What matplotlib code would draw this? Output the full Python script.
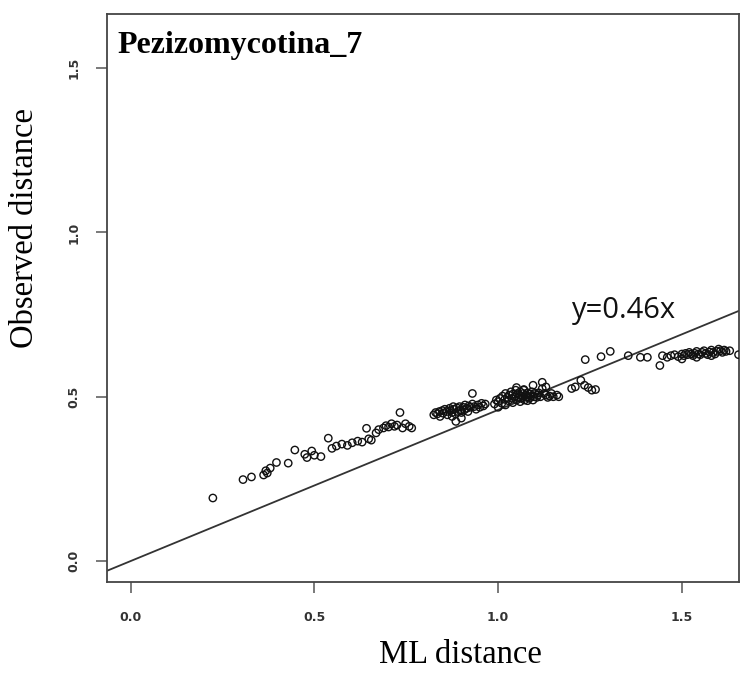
#!/usr/bin/env python3
"""
Saturation plot: observed (p) distance against ML distance for Pezizomycotina_7.
"""

import matplotlib.pyplot as plt

# points, grouped by the clusters along the x axis
ml_low = [0.224, 0.306, 0.329, 0.362, 0.368, 0.372, 0.380, 0.397, 0.429, 0.447,
          0.474, 0.480, 0.493, 0.500, 0.518, 0.538, 0.548, 0.560, 0.575, 0.590,
          0.603, 0.618, 0.630, 0.642, 0.648, 0.655, 0.668, 0.675, 0.688, 0.695,
          0.702, 0.710, 0.718, 0.725, 0.733, 0.740, 0.748, 0.758, 0.765]
obs_low = [0.192, 0.248, 0.256, 0.262, 0.275, 0.268, 0.283, 0.300, 0.298, 0.338,
           0.325, 0.315, 0.335, 0.322, 0.318, 0.374, 0.343, 0.350, 0.356, 0.352,
           0.360, 0.365, 0.362, 0.404, 0.372, 0.368, 0.390, 0.400, 0.405, 0.412,
           0.408, 0.418, 0.410, 0.414, 0.452, 0.405, 0.418, 0.410, 0.405]

ml_mid = [0.825, 0.830, 0.835, 0.840, 0.842, 0.848, 0.850, 0.855, 0.860, 0.862,
          0.868, 0.870, 0.875, 0.878, 0.880, 0.884, 0.888, 0.890, 0.895, 0.898,
          0.900, 0.905, 0.908, 0.910, 0.915, 0.918, 0.920, 0.925, 0.930, 0.935,
          0.940, 0.945, 0.950, 0.955, 0.960, 0.965, 0.885, 0.900, 0.875, 0.930]
obs_mid = [0.445, 0.452, 0.448, 0.455, 0.440, 0.458, 0.450, 0.462, 0.455, 0.445,
           0.465, 0.458, 0.452, 0.470, 0.462, 0.448, 0.466, 0.455, 0.470, 0.460,
           0.452, 0.468, 0.460, 0.475, 0.465, 0.455, 0.472, 0.468, 0.478, 0.470,
           0.462, 0.475, 0.468, 0.480, 0.472, 0.478, 0.425, 0.435, 0.440, 0.510]

ml_one = [0.990, 0.995, 1.000, 1.005, 1.010, 1.012, 1.018, 1.020, 1.025, 1.028,
          1.030, 1.035, 1.038, 1.040, 1.045, 1.048, 1.050, 1.052, 1.055, 1.058,
          1.060, 1.062, 1.065, 1.068, 1.070, 1.072, 1.075, 1.078, 1.080, 1.082,
          1.085, 1.088, 1.090, 1.092, 1.095, 1.098, 1.100, 1.105, 1.108, 1.110,
          1.115, 1.120, 1.125, 1.130, 1.135, 1.140, 1.145, 1.150, 1.160, 1.165,
          1.000, 1.020, 1.040, 1.060, 1.080, 1.095, 1.120, 1.050, 1.070, 1.130]
obs_one = [0.478, 0.490, 0.485, 0.495, 0.480, 0.502, 0.492, 0.510, 0.498, 0.488,
           0.505, 0.515, 0.495, 0.508, 0.500, 0.520, 0.490, 0.510, 0.498, 0.505,
           0.515, 0.495, 0.502, 0.510, 0.520, 0.490, 0.505, 0.498, 0.512, 0.500,
           0.495, 0.508, 0.502, 0.515, 0.535, 0.500, 0.510, 0.498, 0.505, 0.512,
           0.500, 0.544, 0.510, 0.505, 0.498, 0.502, 0.510, 0.500, 0.505, 0.500,
           0.468, 0.475, 0.482, 0.485, 0.488, 0.490, 0.525, 0.528, 0.522, 0.530]

ml_high = [1.200, 1.210, 1.225, 1.235, 1.245, 1.255, 1.265, 1.237, 1.280, 1.305,
           1.354, 1.387, 1.406, 1.440, 1.447]
obs_high = [0.525, 0.530, 0.550, 0.535, 0.528, 0.520, 0.522, 0.613, 0.622, 0.638,
            0.625, 0.620, 0.620, 0.595, 0.625]

ml_top = [1.460, 1.470, 1.480, 1.490, 1.500, 1.505, 1.510, 1.515, 1.520, 1.525,
          1.530, 1.535, 1.540, 1.545, 1.550, 1.555, 1.560, 1.565, 1.570, 1.575,
          1.580, 1.585, 1.590, 1.595, 1.600, 1.605, 1.610, 1.615, 1.620, 1.630,
          1.654, 1.500, 1.540, 1.580]
obs_top = [0.620, 0.625, 0.628, 0.622, 0.630, 0.625, 0.632, 0.628, 0.635, 0.630,
           0.625, 0.632, 0.638, 0.630, 0.628, 0.635, 0.640, 0.632, 0.628, 0.636,
           0.642, 0.635, 0.630, 0.638, 0.645, 0.640, 0.635, 0.642, 0.638, 0.640,
           0.628, 0.615, 0.620, 0.625]

slope = 0.46
axis_ticks = [0.0, 0.5, 1.0, 1.5]
axis_lim = (-0.064, 1.664)


def main():
    ml = ml_low + ml_mid + ml_one + ml_high + ml_top
    obs = obs_low + obs_mid + obs_one + obs_high + obs_top

    fig = plt.figure(figsize=(7.43, 6.73), dpi=100)
    ax = fig.add_axes([0.144, 0.135, 0.850, 0.844])

    ax.scatter(ml, obs, s=28, facecolors="none", edgecolors="#111111",
               linewidths=1.0, zorder=3)

    # fitted line through the origin
    ax.axline((0, 0), slope=slope, color="#333333", linewidth=1.3, zorder=2)

    ax.set_xlim(axis_lim[0], 1.654)
    ax.set_ylim(*axis_lim)
    ax.set_xticks(axis_ticks)
    ax.set_yticks(axis_ticks)
    ax.set_xticklabels([f"{t:.1f}" for t in axis_ticks])
    ax.set_yticklabels([f"{t:.1f}" for t in axis_ticks], rotation=90, va="center")

    for side in ax.spines.values():
        side.set_color("#444444")
        side.set_linewidth(1.3)
    ax.tick_params(direction="out", length=8, width=1.1, color="#555555",
                   labelsize=9, labelcolor="#333333")
    ax.tick_params(axis="x", pad=13)
    ax.tick_params(axis="y", pad=11)
    for lab in ax.get_xticklabels() + ax.get_yticklabels():
        lab.set_fontweight("bold")

    # axis titles sit off-centre in the reference, so place them by hand
    serif = "Liberation Serif"
    fig.text(460 / 743, 1 - 655 / 673, "ML distance", family=serif,
             fontsize=23.5, ha="center", va="center")
    fig.text(25 / 743, 1 - 228 / 673, "Observed distance", family=serif,
             fontsize=23.5, rotation=90, ha="center", va="center")

    ax.text(0.016, 0.97, "Pezizomycotina_7", transform=ax.transAxes,
            family=serif, fontsize=23, fontweight="bold", va="top", ha="left")
    ax.text(1.20, 0.74, "y=0.46x", family="Open Sans", fontsize=21,
            ha="left", va="baseline", color="#111111")

    fig.savefig("out.png", dpi=100, facecolor="white")


if __name__ == "__main__":
    main()
